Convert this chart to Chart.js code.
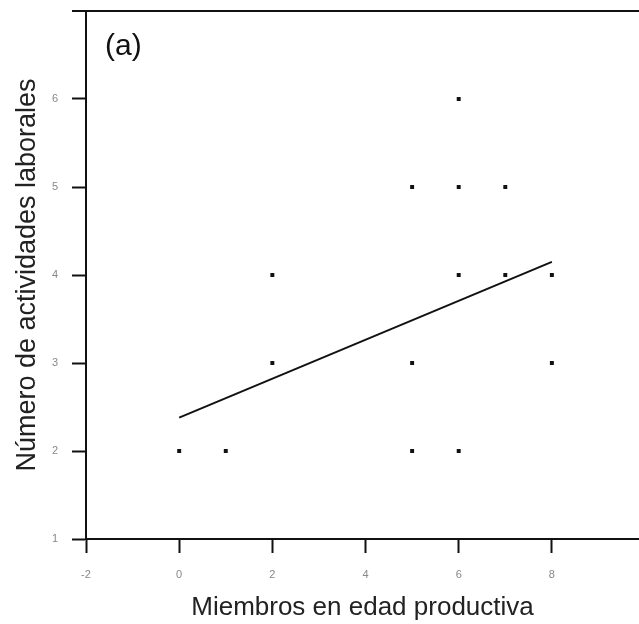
<!DOCTYPE html>
<html>
<head>
<meta charset="utf-8">
<script src="https://cdn.jsdelivr.net/npm/chart.js@4/dist/chart.umd.min.js"></script>
<style>
  html, body { margin: 0; padding: 0; background: #fff; }
  #wrap { width: 639px; height: 624px; }
</style>
</head>
<body>
<div id="wrap"><canvas id="chart-scatter"></canvas></div>
<script>
// miembros en edad productiva (x) vs numero de actividades (y)
const miembros = [0, 1, 2, 2, 5, 5, 5, 6, 6, 6, 6, 7, 7, 8, 8];
const actividades = [2, 2, 3, 4, 2, 3, 5, 2, 4, 5, 6, 4, 5, 3, 4];
// recta de regresion
const rectaX = [0, 8];
const rectaY = [2.38, 4.15];
const xTicks = [-2, 0, 2, 4, 6, 8];
const yTicks = [1, 2, 3, 4, 5, 6];

const puntos = miembros.map((x, i) => ({ x: x, y: actividades[i] }));
const recta = rectaX.map((x, i) => ({ x: x, y: rectaY[i] }));

// borde superior y etiqueta (a)
const marco = {
  id: "marco",
  afterDraw(chart) {
    const { ctx, chartArea } = chart;
    ctx.save();
    ctx.strokeStyle = "#111";
    ctx.lineWidth = 2;
    ctx.beginPath();
    ctx.moveTo(72, chartArea.top);
    ctx.lineTo(chart.width, chartArea.top);
    ctx.stroke();
    ctx.fillStyle = "#111";
    ctx.font = "30px 'Liberation Sans', Arial, sans-serif";
    ctx.textBaseline = "middle";
    ctx.fillText("(a)", 105, 47);
    ctx.restore();
  },
};

new Chart(document.getElementById("chart-scatter"), {
  type: "scatter",
  data: {
    datasets: [
      {
        data: puntos,
        pointStyle: "rect",
        pointRadius: 2.8,
        backgroundColor: "#111",
        borderColor: "#111",
        borderWidth: 0,
      },
      {
        type: "line",
        data: recta,
        borderColor: "#111",
        borderWidth: 2,
        pointRadius: 0,
        fill: false,
      },
    ],
  },
  plugins: [marco],
  options: {
    responsive: true,
    maintainAspectRatio: false,
    animation: false,
    layout: { autoPadding: false, padding: { top: 11, right: 0, left: 0, bottom: 0 } },
    plugins: { legend: { display: false }, tooltip: { enabled: false } },
    scales: {
      x: {
        type: "linear",
        min: -2,
        max: 9.87,
        afterBuildTicks: (scale) => {
          scale.ticks = xTicks.map((v) => ({ value: v }));
        },
        afterFit: (scale) => {
          scale.height = 85;
          scale.paddingLeft = 0;
          scale.paddingRight = 0;
        },
        border: { display: true, color: "#111", width: 2 },
        grid: { drawOnChartArea: false, tickLength: 14, color: "#111", tickWidth: 2 },
        ticks: {
          color: "#888",
          padding: 15,
          font: { family: "'Liberation Sans', Arial, sans-serif", size: 11 },
        },
        title: {
          display: true,
          text: "Miembros en edad productiva",
          color: "#222",
          padding: { top: 0, bottom: 1 },
          font: { family: "'Liberation Sans', Arial, sans-serif", size: 26 },
        },
      },
      y: {
        type: "linear",
        min: 1,
        max: 7,
        afterBuildTicks: (scale) => {
          scale.ticks = yTicks.map((v) => ({ value: v }));
        },
        afterFit: (scale) => {
          scale.width = 86;
          scale.paddingTop = 0;
          scale.paddingBottom = 0;
        },
        border: { display: true, color: "#111", width: 2 },
        grid: { drawOnChartArea: false, tickLength: 14, color: "#111", tickWidth: 2 },
        ticks: {
          color: "#888",
          padding: 14,
          font: { family: "'Liberation Sans', Arial, sans-serif", size: 11 },
        },
        title: {
          display: true,
          text: "Número de actividades laborales",
          color: "#222",
          padding: { top: 11, bottom: 0 },
          font: { family: "'Liberation Sans', Arial, sans-serif", size: 27 },
        },
      },
    },
  },
});
</script>
</body>
</html>
